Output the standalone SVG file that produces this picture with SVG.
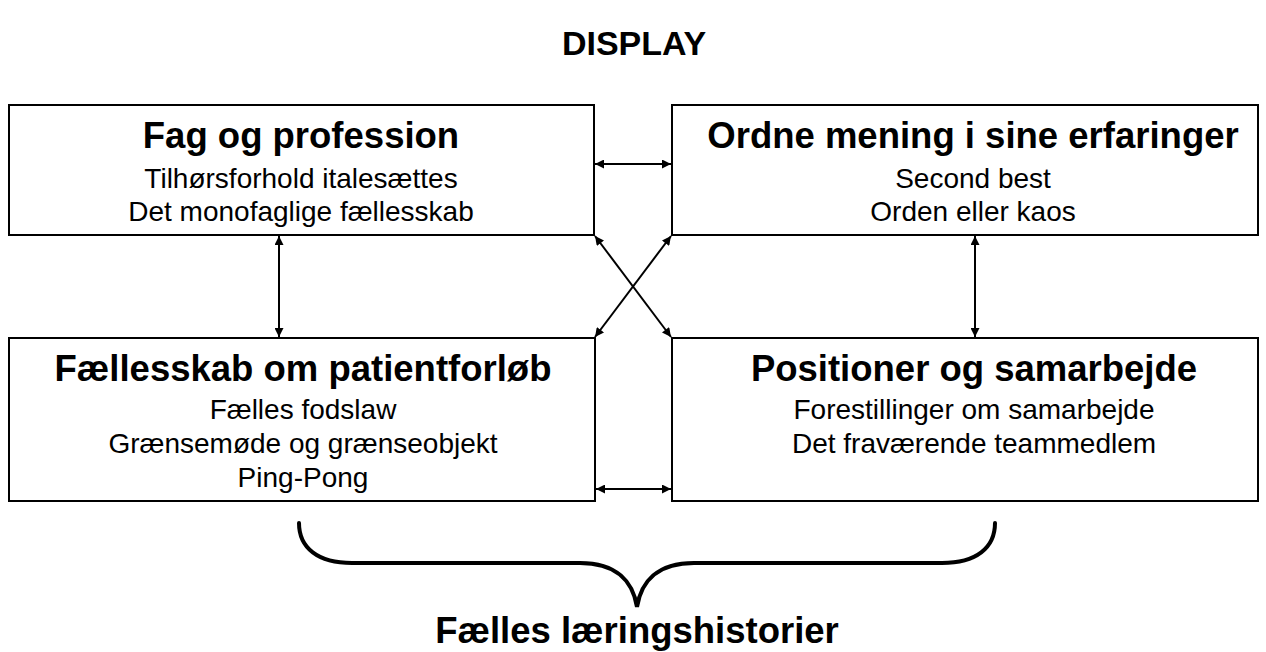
<svg xmlns="http://www.w3.org/2000/svg" width="1266" height="652" viewBox="0 0 1266 652">
<defs>
<marker id="ah" viewBox="0 0 10 10" refX="10" refY="5" markerWidth="10" markerHeight="9" markerUnits="userSpaceOnUse" orient="auto-start-reverse">
<path d="M0,0 L10,5 L0,10 z" fill="#000"/>
</marker>
<style>
.box{fill:#fff;stroke:#000;stroke-width:2}
.t{font-family:"Liberation Sans",Arial,sans-serif;font-weight:bold;font-size:36.5px;text-anchor:middle;fill:#000}
.s{font-family:"Liberation Sans",Arial,sans-serif;font-size:28px;text-anchor:middle;fill:#000}
.c{stroke:#000;stroke-width:2;fill:none;marker-start:url(#ah);marker-end:url(#ah)}
</style>
</defs>
<rect width="1266" height="652" fill="#fff"/>
<text id="title" x="634" y="55" class="t" style="font-size:34px">DISPLAY</text>
<g id="n1">
<rect class="box" x="9" y="105" width="585" height="130"/>
<text class="t" x="301" y="148">Fag og profession</text>
<text class="s" x="301" y="188">Tilhørsforhold italesættes</text>
<text class="s" x="301" y="221">Det monofaglige fællesskab</text>
</g>
<g id="n2">
<rect class="box" x="672" y="105" width="586" height="130"/>
<text class="t" x="973" y="148">Ordne mening i sine erfaringer</text>
<text class="s" x="973" y="188">Second best</text>
<text class="s" x="973" y="221">Orden eller kaos</text>
</g>
<g id="n3">
<rect class="box" x="9" y="338" width="586" height="163"/>
<text class="t" x="303" y="381">Fællesskab om patientforløb</text>
<text class="s" x="303" y="419">Fælles fodslaw</text>
<text class="s" x="303" y="453">Grænsemøde og grænseobjekt</text>
<text class="s" x="303" y="487">Ping-Pong</text>
</g>
<g id="n4">
<rect class="box" x="672" y="338" width="586" height="163"/>
<text class="t" x="974" y="381">Positioner og samarbejde</text>
<text class="s" x="974" y="419">Forestillinger om samarbejde</text>
<text class="s" x="974" y="453">Det fraværende teammedlem</text>
</g>
<g id="connectors">
<line class="c" x1="595" y1="164" x2="671" y2="164"/>
<line class="c" x1="596" y1="489" x2="671" y2="489"/>
<line class="c" x1="279" y1="236" x2="279" y2="337"/>
<line class="c" x1="975" y1="236" x2="975" y2="337"/>
<line class="c" x1="595" y1="236" x2="671" y2="337"/>
<line class="c" x1="671" y1="236" x2="595" y2="337"/>
</g>
<g id="brace">
<path d="M299,523 C299,548 318,563 352,563 L580,563 C617,563 633,582 637,607 C641,582 657,563 694,563 L942,563 C976,563 995,548 995,523" fill="none" stroke="#000" stroke-width="4" stroke-linecap="round"/>
</g>
<text id="footer" class="t" x="637" y="643">Fælles læringshistorier</text>
</svg>
